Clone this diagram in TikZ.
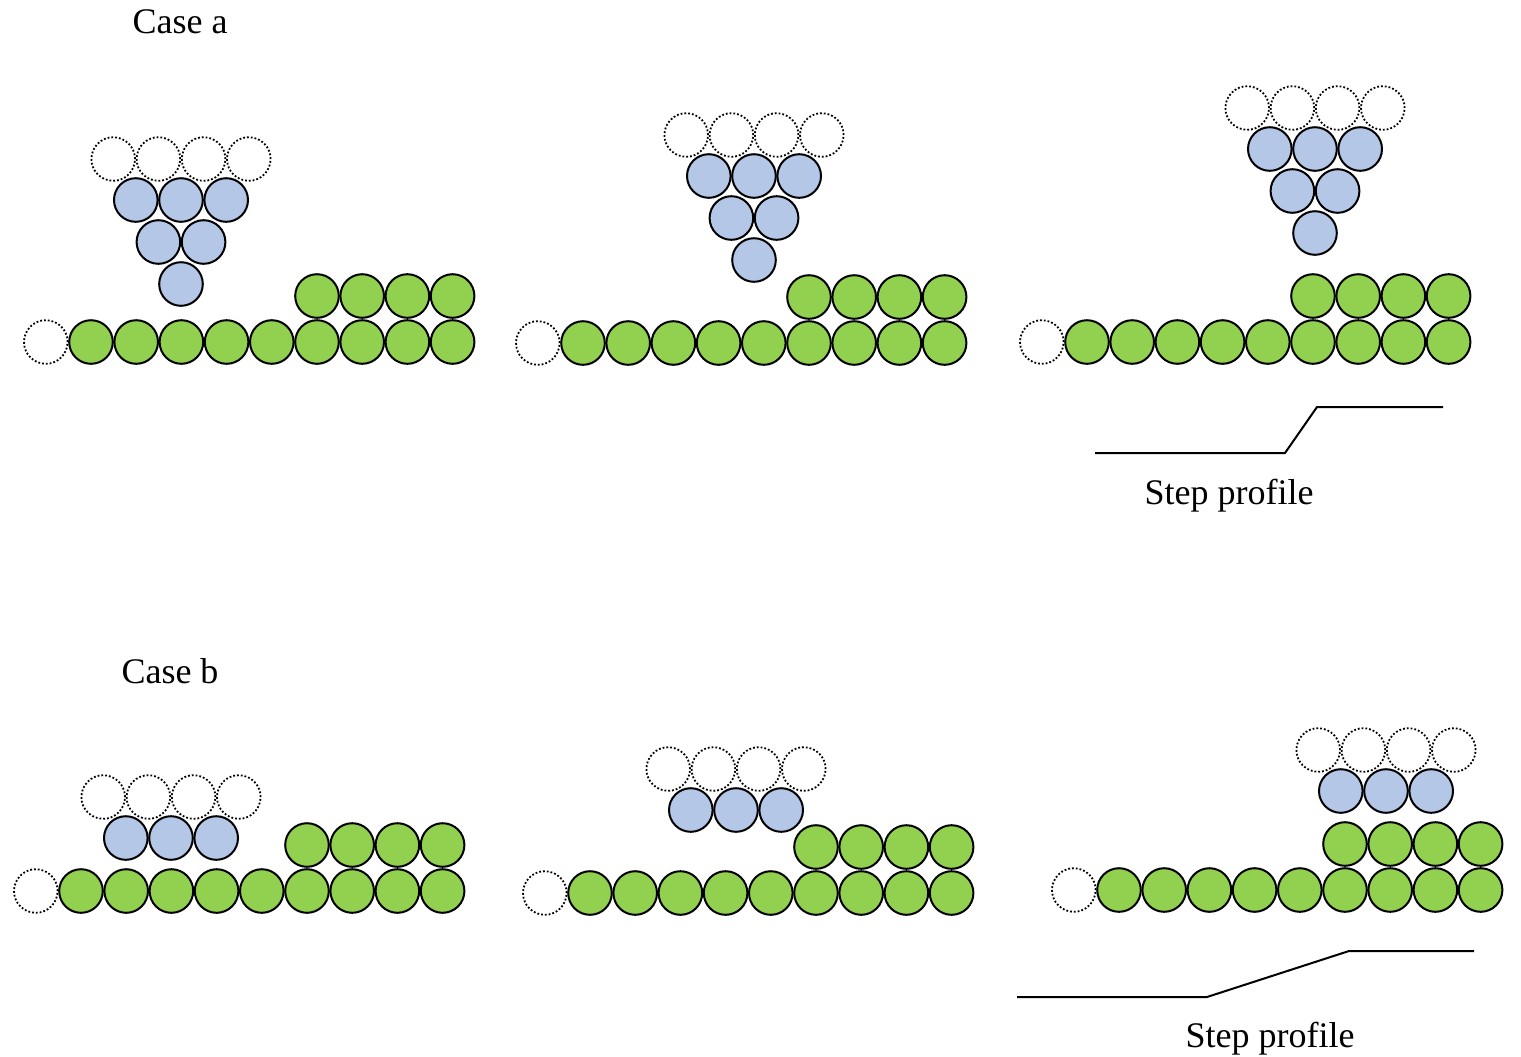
\documentclass[tikz,border=0pt]{standalone}
\usepackage{fontspec}
\setmainfont{Liberation Serif}
\usetikzlibrary{positioning,calc}
\definecolor{grain}{HTML}{92D050}
\definecolor{adatom}{HTML}{B4C7E7}

\tikzset{
  atom/.style={circle, draw, line width=1pt, minimum size=21.8pt, inner sep=0pt},
  sub/.style={atom, fill=grain},
  dep/.style={atom, fill=adatom},
  vac/.style={circle, draw, densely dotted, line width=0.9pt, minimum size=21.8pt, inner sep=0pt},
  profile/.style={line width=1pt},
  caption/.style={font=\fontsize{18}{22}\selectfont},
}

% substrate: vacancy, 9 atoms, and the 4-atom terrace on the right
\newcommand\substrate[3]{%
  \node[vac] (#1v) at (#2-45.2,#3) {};
  \foreach \i in {0,...,8} \node[sub] (#1b\i) at ({#2+\i*45.2},#3) {};
  \foreach \i in {5,...,8} \node[sub] (#1t\i) at ({#2+\i*45.2},#3-46) {};
}
% inverted triangle, apex at (#2,#3)
\newcommand\pyramid[3]{%
  \foreach \k in {0,...,3} \node[vac] (#1v\k) at ({#2+(\k-1.5)*45.2},#3-125) {};
  \foreach \k in {0,...,2} \node[dep] (#1r\k) at ({#2+(\k-1)*45.2},#3-84) {};
  \foreach \k in {0,1} \node[dep] (#1s\k) at ({#2+(\k-0.5)*45.2},#3-42) {};
  \node[dep] (#1tip) at (#2,#3) {};
}
% flat row of three, middle atom at (#2,#3)
\newcommand\island[3]{%
  \foreach \k in {0,...,3} \node[vac] (#1v\k) at ({#2+(\k-1.5)*45.2},#3-41) {};
  \foreach \k in {0,...,2} \node[dep] (#1r\k) at ({#2+(\k-1)*45.2},#3) {};
}

\begin{document}
\begin{tikzpicture}[x=0.5pt, y=-0.5pt]
    \useasboundingbox (0,0) rectangle (1521,1056);

    % case a
    \node[caption] (casea) at (180,22) {Case a};
    \substrate{aa}{91}{342}
    \pyramid{pa}{181}{284}
    \substrate{ab}{583}{343}
    \pyramid{pb}{754}{260}
    \substrate{ac}{1087}{342}
    \pyramid{pc}{1315}{233}

    \coordinate (sa0) at (1095,453);
    \coordinate (sa1) at (1285,453);
    \coordinate (sa2) at (1317,407);
    \coordinate (sa3) at (1443,407);
    \draw[profile] (sa0) -- (sa1) -- (sa2) -- (sa3);
    \node[caption] (stepa) at (1229,496) {Step profile};

    % case b
    \node[caption] (caseb) at (170,671) {Case b};
    \substrate{ba}{81}{891}
    \island{qa}{171}{838}
    \substrate{bb}{590}{893}
    \island{qb}{736}{810}
    \substrate{bc}{1119}{890}
    \island{qc}{1386}{791}

    \coordinate (sb0) at (1017,997);
    \coordinate (sb1) at (1207,997);
    \coordinate (sb2) at (1349,951);
    \coordinate (sb3) at (1474,951);
    \draw[profile] (sb0) -- (sb1) -- (sb2) -- (sb3);
    \node[caption] (stepb) at (1270,1039) {Step profile};
\end{tikzpicture}
\end{document}
